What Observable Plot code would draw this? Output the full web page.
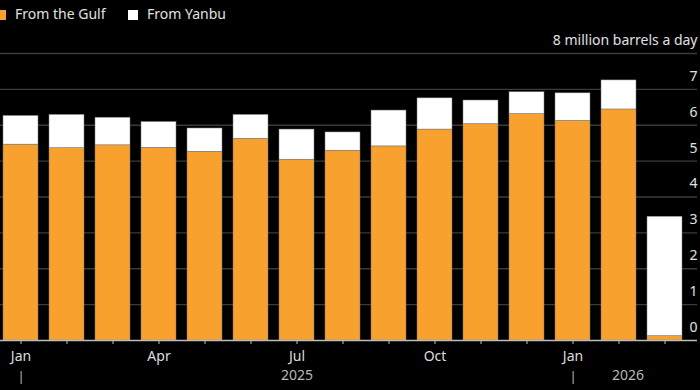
<!DOCTYPE html>
<html>
<head>
<meta charset="utf-8">
<script src="https://cdn.jsdelivr.net/npm/d3@7"></script>
<script src="https://cdn.jsdelivr.net/npm/@observablehq/plot@0.6"></script>
<style>
  html, body { margin: 0; padding: 0; background: #000; }
  body { width: 700px; height: 390px; overflow: hidden; font-family: "Noto Sans", "Open Sans", sans-serif; }
  #legend { position: relative; height: 30px; color: #e0e0e0; font-size: 14px; }
  #legend .sw { position: absolute; top: 10px; width: 10px; height: 10px; }
  #legend .lb { position: absolute; top: 5px; line-height: 18px; white-space: nowrap; }
</style>
</head>
<body>
<div id="legend"></div>
<div id="chart"></div>
<script>
// ---- data ----
const months = ["2025-01","2025-02","2025-03","2025-04","2025-05","2025-06","2025-07","2025-08","2025-09","2025-10","2025-11","2025-12","2026-01","2026-02","2026-03"];
const monthLabels = {"2025-01":"Jan","2025-04":"Apr","2025-07":"Jul","2025-10":"Oct","2026-01":"Jan"};
const gulf  = [5.46, 5.36, 5.44, 5.37, 5.26, 5.62, 5.04, 5.29, 5.41, 5.88, 6.03, 6.31, 6.12, 6.44, 0.12];
const yanbu = [0.80, 0.93, 0.77, 0.72, 0.65, 0.67, 0.84, 0.51, 1.00, 0.87, 0.66, 0.61, 0.77, 0.81, 3.33];
const series = ["From the Gulf", "From Yanbu"];
const colors = ["#f9a12e", "#ffffff"];
const yTicks = [0, 1, 2, 3, 4, 5, 6, 7, 8];
const yTopLabel = "8 million barrels a day";
const yearMarks = ["2025-01", "2026-01"];
const year2025 = [{month: "2025-07", text: "2025"}];
const year2026 = [{month: "2026-02", text: "2026"}];

// ---- legend ----
const legend = document.getElementById("legend");
const legendX = [{sw: -4, lb: 15}, {sw: 128, lb: 147}];
series.forEach((s, i) => {
  const sw = document.createElement("div");
  sw.className = "sw"; sw.style.left = legendX[i].sw + "px"; sw.style.background = colors[i];
  const lb = document.createElement("div");
  lb.className = "lb"; lb.style.left = legendX[i].lb + "px"; lb.textContent = s;
  legend.append(sw, lb);
});

// ---- table ----
const rows = [];
months.forEach((m, i) => {
  rows.push({month: m, source: series[0], value: gulf[i]});
  rows.push({month: m, source: series[1], value: yanbu[i]});
});

const chart = Plot.plot({
  width: 700,
  height: 360,
  marginTop: 23,
  marginBottom: 50,
  marginLeft: 0,
  marginRight: 3,
  style: {background: "#000", color: "#ddd", fontFamily: "'Noto Sans', 'Open Sans', sans-serif", fontSize: "14px"},
  x: {type: "band", domain: months, range: [3, 682], paddingInner: 0.24, paddingOuter: 0, label: null},
  y: {domain: [0, 8], label: null},
  color: {domain: series, range: colors},
  marks: [
    Plot.ruleY(yTicks.filter(d => d > 0), {stroke: "#3b3b3b", strokeWidth: 1.3}),
    Plot.barY(rows, {x: "month", y: "value", fill: "source", stroke: "#777", strokeWidth: 0.5}),
    Plot.ruleY([0], {stroke: "#bdbdbd", strokeWidth: 1.3}),
    Plot.axisX({tickSize: 4, tickPadding: 7, stroke: "#bdbdbd", fill: "#ddd", fontSize: 14, label: null,
      tickFormat: d => monthLabels[d] || ""}),
    Plot.axisY({ticks: [], label: null}),
    Plot.text(yTicks, {y: d => d, text: d => d === 8 ? yTopLabel : String(d),
      frameAnchor: "right", textAnchor: "end", dy: -13, fill: "#e0e0e0", fontSize: 14}),
    Plot.text(yearMarks, {x: d => d, text: () => "|", frameAnchor: "bottom", lineAnchor: "middle", dy: 36, fill: "#bbb", fontSize: 13}),
    Plot.text(year2025, {x: "month", text: "text", frameAnchor: "bottom", lineAnchor: "middle", dy: 35, fill: "#b8b8b8", fontSize: 14}),
    Plot.text(year2026, {x: "month", text: "text", dx: 9, frameAnchor: "bottom", lineAnchor: "middle", dy: 35, fill: "#b8b8b8", fontSize: 14})
  ]
});
document.getElementById("chart").append(chart);
</script>
</body>
</html>
